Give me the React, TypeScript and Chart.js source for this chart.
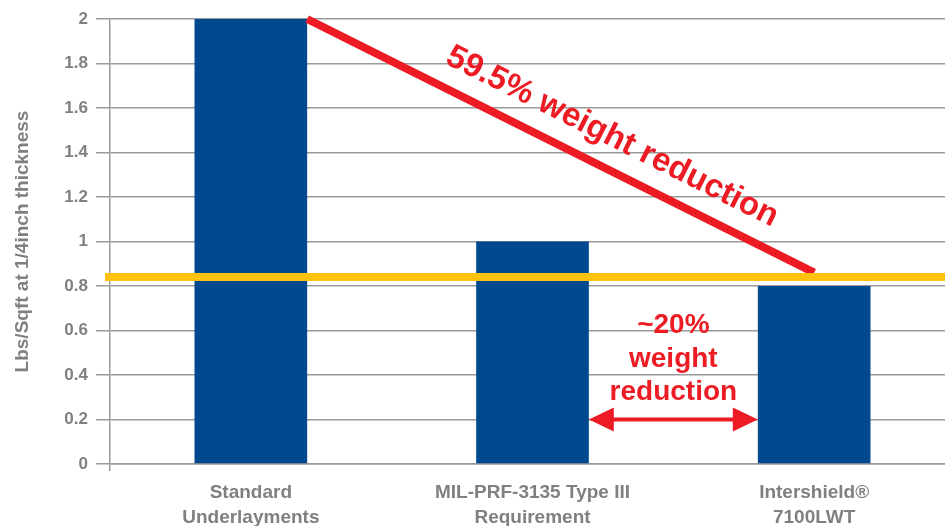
import React, { useEffect, useRef } from "react";
import { Chart, registerables } from "chart.js";

Chart.register(...registerables);

const categories = [
  ["Standard", "Underlayments"],
  ["MIL-PRF-3135 Type III", "Requirement"],
  ["Intershield®", "7100LWT"],
];
const weights = [2, 1, 0.8];
const yMin = 0;
const yMax = 2;
const yStep = 0.2;
const yTitle = "Lbs/Sqft at 1/4inch thickness";
const thresholdValue = 0.84;
const reductionLineEnd = 0.86;
const arrowLevel = 0.2;
const reductionLabel = "59.5% weight reduction";
const gapLabel = ["~20%", "weight", "reduction"];

const FONT = '"Liberation Sans", Arial, Helvetica, sans-serif';
const GREY = "#808080";
const GRID = "#9a9a9a";
const BLUE = "#00498F";
const RED = "#ED1C24";
const YELLOW = "#FFC20F";

const annotPlugin = {
  id: "annot",
  afterDatasetsDraw(chart: any) {
    const { ctx, chartArea, scales } = chart;
    const y = scales.y;
    const bars = chart.getDatasetMeta(0).data as any[];
    const p = bars.map((b: any) => b.getProps(["x", "y", "width"], true));

    ctx.save();
    // red diagonal line
    const sx = p[0].x + p[0].width / 2;
    const sy = y.getPixelForValue(weights[0]);
    const ex = p[2].x;
    const ey = y.getPixelForValue(reductionLineEnd);
    ctx.strokeStyle = RED;
    ctx.lineWidth = 8;
    ctx.lineCap = "butt";
    ctx.beginPath();
    ctx.moveTo(sx, sy);
    ctx.lineTo(ex, ey);
    ctx.stroke();

    // yellow threshold line
    const ty = y.getPixelForValue(thresholdValue);
    ctx.strokeStyle = YELLOW;
    ctx.lineWidth = 8;
    ctx.beginPath();
    ctx.moveTo(chartArea.left - 5, ty);
    ctx.lineTo(chart.width, ty);
    ctx.stroke();

    // rotated label
    const ang = Math.atan2(ey - sy, ex - sx);
    const dx = Math.cos(ang), dy = Math.sin(ang);
    const nx = Math.sin(ang), ny = -Math.cos(ang);
    const mx = (sx + ex) / 2 + 42 * dx + 31 * nx;
    const my = (sy + ey) / 2 + 42 * dy + 31 * ny;
    ctx.save();
    ctx.translate(mx, my);
    ctx.rotate(ang);
    ctx.fillStyle = RED;
    ctx.font = `bold 33px ${FONT}`;
    ctx.textAlign = "center";
    ctx.textBaseline = "middle";
    ctx.fillText(reductionLabel, 0, 0);
    ctx.restore();

    // double arrow
    const ay = y.getPixelForValue(arrowLevel);
    const x1 = p[1].x + p[1].width / 2;
    const x2 = p[2].x - p[2].width / 2;
    const hl = 25, hw = 12;
    ctx.strokeStyle = RED;
    ctx.fillStyle = RED;
    ctx.lineWidth = 4;
    ctx.beginPath();
    ctx.moveTo(x1 + hl - 2, ay);
    ctx.lineTo(x2 - hl + 2, ay);
    ctx.stroke();
    ctx.beginPath();
    ctx.moveTo(x1, ay);
    ctx.lineTo(x1 + hl, ay - hw);
    ctx.lineTo(x1 + hl, ay + hw);
    ctx.closePath();
    ctx.fill();
    ctx.beginPath();
    ctx.moveTo(x2, ay);
    ctx.lineTo(x2 - hl, ay - hw);
    ctx.lineTo(x2 - hl, ay + hw);
    ctx.closePath();
    ctx.fill();

    // gap label
    const cx = (x1 + x2) / 2;
    ctx.font = `bold 28px ${FONT}`;
    ctx.textAlign = "center";
    ctx.textBaseline = "middle";
    const offs = [94, 60, 27];
    gapLabel.forEach((t, i) => ctx.fillText(t, cx, ay - offs[i]));
    ctx.restore();
  },
};

export default function App() {
  const ref = useRef<HTMLCanvasElement | null>(null);
  useEffect(() => {
    if (!ref.current) return;
    const chart = new Chart(ref.current, {
      type: "bar",
      data: {
        labels: categories as any,
        datasets: [
          {
            data: weights,
            backgroundColor: BLUE,
            borderWidth: 0,
            barPercentage: 0.4,
            categoryPercentage: 1,
          },
        ],
      },
      options: {
        animation: false,
        responsive: true,
        maintainAspectRatio: false,
        layout: { padding: { top: 19, right: 5, left: 0, bottom: 0 } },
        plugins: { legend: { display: false }, tooltip: { enabled: false } },
        scales: {
          x: {
            afterFit: (s: any) => { s.height = 62; },
            grid: {
              drawOnChartArea: false,
              drawTicks: true,
              tickLength: 7,
              lineWidth: 1.5,
              color: (c: any) => (c.index === 0 ? GRID : "rgba(0,0,0,0)"),
            },
            border: { display: true, color: GRID, width: 1.5 },
            ticks: {
              color: GREY,
              padding: 9,
              maxRotation: 0,
              autoSkip: false,
              font: { family: FONT, size: 19, weight: "bold", lineHeight: 1.316 },
            },
          },
          y: {
            min: yMin,
            max: yMax,
            afterFit: (s: any) => { s.width = 110; },
            grid: { color: GRID, lineWidth: 1.5, tickLength: 14 },
            border: { display: true, color: GRID, width: 1.5 },
            ticks: {
              stepSize: yStep,
              color: GREY,
              padding: 8,
              font: { family: FONT, size: 17, weight: "bold" },
              callback: (v: any) => String(Number(Number(v).toFixed(1))),
            },
            title: {
              display: true,
              text: yTitle,
              color: GREY,
              padding: { top: 11, bottom: 0 },
              font: { family: FONT, size: 19, weight: "bold", lineHeight: 1.2 },
            },
          },
        },
      },
      plugins: [annotPlugin],
    });
    return () => chart.destroy();
  }, []);
  return (
    <div style={{ position: "fixed", left: 0, top: 0, width: 960, height: 526, background: "#fff" }}>
      <canvas ref={ref} />
    </div>
  );
}
